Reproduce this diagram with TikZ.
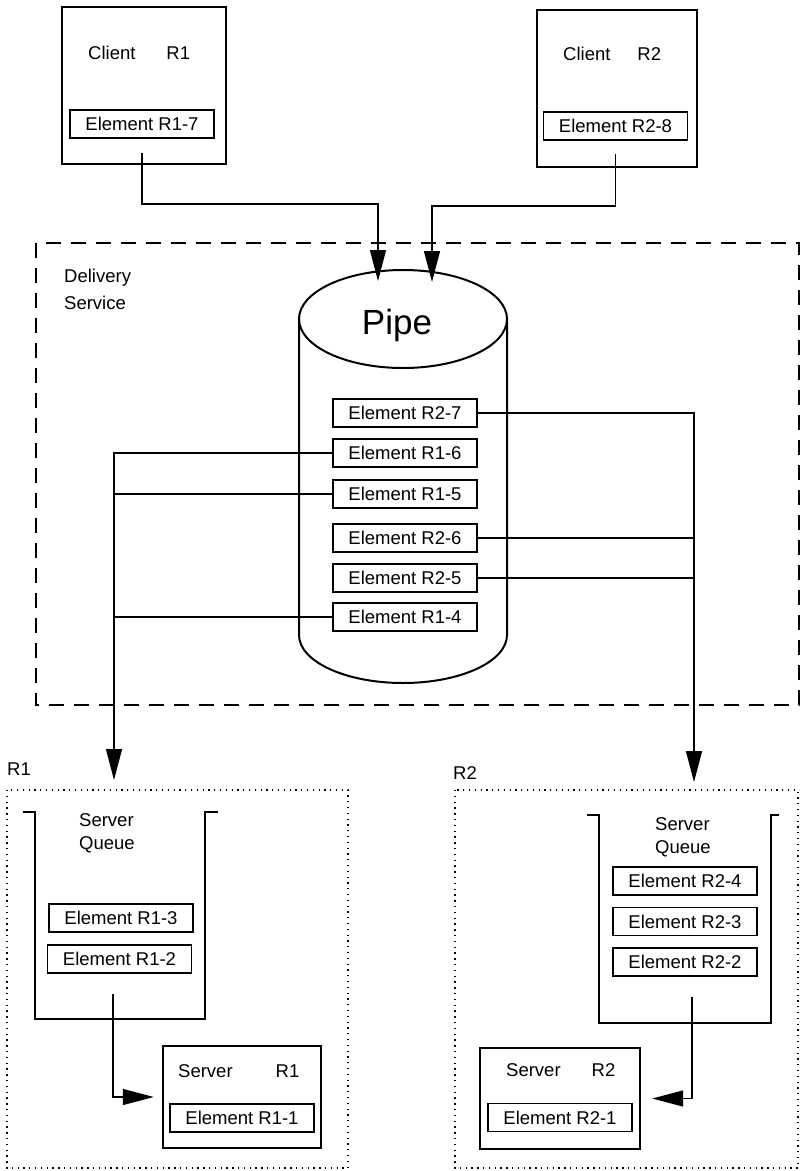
\documentclass[tikz,border=0pt]{standalone}
\usepackage{fontspec}
\setmainfont{Liberation Sans}
\usetikzlibrary{arrows.meta}

\begin{document}
\begin{tikzpicture}[x=1pt, y=-1pt, >={Triangle[length=31pt, width=16pt]},
    font=\fontsize{18.5}{23}\selectfont,
    elem/.style={draw, line width=1.2pt, minimum width=144pt, minimum height=28pt, inner sep=0pt},
    hostbox/.style={draw, line width=2.4pt, inner sep=0pt},
    lbl/.style={inner sep=0pt, anchor=west},
    wire/.style={line width=1.3pt}]
    \useasboundingbox (0,0) rectangle (801,1171);

    % client side
    \node[hostbox, minimum width=164pt, minimum height=157pt] (cl1) at (144,85.5) {};
    \node[lbl] (cl1lbl) at (88,53) {Client\hspace{31pt}R1};
    \node[elem] (e17) at (142,124) {Element R1-7};
    \node[hostbox, minimum width=160pt, minimum height=157pt] (cl2) at (617,88.5) {};
    \node[lbl] (cl2lbl) at (563,54) {Client\hspace{27pt}R2};
    \node[elem] (e28) at (615.5,126) {Element R2-8};

    % delivery service with the pipe
    \draw[line width=1.6pt, dash pattern=on 15pt off 10pt] (36,243) rectangle (799,705);
    \node[lbl, align=left, font=\fontsize{18.5}{27}\selectfont] (dslbl) at (64,289.5) {Delivery\\Service};
    \draw[line width=2pt] (403,319) ellipse [x radius=104pt, y radius=49pt];
    \draw[line width=2pt] (299,319) -- (299,635) arc[start angle=180, end angle=360, x radius=104pt, y radius=48pt] -- (507,319);
    \node (pipelbl) at (397,325) {\fontsize{35}{40}\selectfont Pipe};
    \coordinate (in1) at (378,281);
    \coordinate (in2) at (432,282);
    \coordinate (bend1) at (378,204);
    \coordinate (bend2) at (432,206);
    \draw[wire, ->] ([yshift=-14pt]e17.south) |- (bend1) -- (in1);
    \draw[wire, ->] ([yshift=-13pt]e28.south) |- (bend2) -- (in2);

    \node[elem] (r27) at (405,413) {Element R2-7};
    \node[elem] (r16) at (405,453) {Element R1-6};
    \node[elem] (r15) at (405,494) {Element R1-5};
    \node[elem] (r26) at (405,538) {Element R2-6};
    \node[elem] (r25) at (405,578) {Element R2-5};
    \node[elem] (r14) at (405,617) {Element R1-4};

    \coordinate (q1in) at (114,780);
    \coordinate (q2in) at (694,782);
    \draw[wire, ->] (r16.west) -| (q1in);
    \draw[wire] (r15.west) -- (r15.west -| q1in);
    \draw[wire] (r14.west) -- (r14.west -| q1in);
    \draw[wire, ->] (r27.east) -| (q2in);
    \draw[wire] (r26.east) -- (r26.east -| q2in);
    \draw[wire] (r25.east) -- (r25.east -| q2in);

    % receiver R1
    \node[lbl] (r1lbl) at (7,769) {R1};
    \draw[line width=1.2pt, dash pattern=on 1.3pt off 4.5pt] (7,790) rectangle (348,1168);
    \draw[line width=2.4pt] (23,812) -- (35,812) -- (35,1019) -- (205,1019) -- (205,812) -- (218,812);
    \node[lbl, align=left] (q1lbl) at (79,833.5) {Server\\Queue};
    \node[elem] (e13) at (121,918) {Element R1-3};
    \node[elem] (e12) at (119.5,959) {Element R1-2};
    \node[hostbox, minimum width=158pt, minimum height=102pt] (srv1) at (242,1097) {};
    \node[lbl] (srv1lbl) at (178,1071) {Server\hspace{43pt}R1};
    \node[elem] (e11) at (242,1118) {Element R1-1};
    \coordinate (q1out) at (113,994);
    \draw[wire, ->] (q1out) |- ([xshift=-8pt]srv1.west);

    % receiver R2
    \node[lbl] (r2lbl) at (453,773) {R2};
    \draw[line width=1.2pt, dash pattern=on 1.3pt off 4.5pt] (455,790) rectangle (798,1168);
    \draw[line width=2.4pt] (587,815) -- (599,815) -- (599,1023) -- (771,1023) -- (771,815) -- (779,815);
    \node[lbl, align=left] (q2lbl) at (655,837.5) {Server\\Queue};
    \node[elem] (e24) at (685,881) {Element R2-4};
    \node[elem] (e23) at (685,921.5) {Element R2-3};
    \node[elem] (e22) at (685,962) {Element R2-2};
    \node[hostbox, minimum width=160pt, minimum height=101pt] (srv2) at (560,1098.5) {};
    \node[lbl] (srv2lbl) at (506,1070) {Server\hspace{31pt}R2};
    \node[elem] (e21) at (560,1117.5) {Element R2-1};
    \coordinate (q2out) at (692,997);
    \draw[wire, ->] (q2out) |- ([xshift=11pt]srv2.east);
\end{tikzpicture}
\end{document}
